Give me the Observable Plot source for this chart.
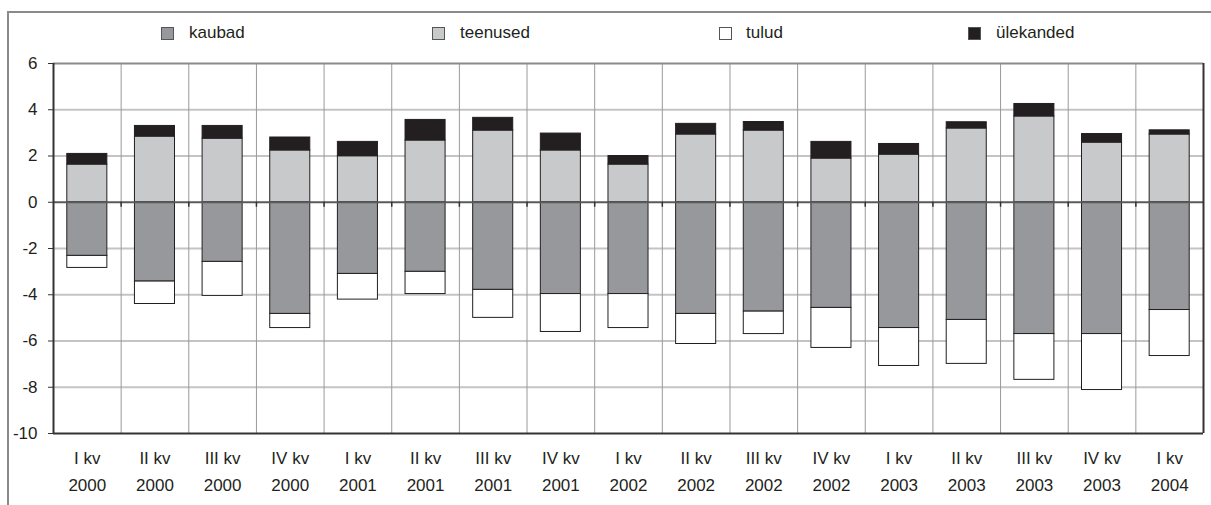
<!DOCTYPE html>
<html>
<head>
<meta charset="utf-8">
<script src="https://cdn.jsdelivr.net/npm/d3@7"></script>
<script src="https://cdn.jsdelivr.net/npm/@observablehq/plot@0.6"></script>
<style>
  html, body { margin: 0; padding: 0; background: #fff; overflow: hidden; }
  #wrap { position: relative; width: 1211px; height: 505px; font-family: "Liberation Sans", Arial, sans-serif; color: #231f20; }
  #frame { position: absolute; left: 7px; top: 11px; width: 1400px; height: 700px; border-left: 2px solid #8a8a8a; border-top: 2px solid #8a8a8a; }
  #legend { position: relative; height: 52px; }
  .lg { position: absolute; top: 23px; font-size: 17px; line-height: 20px; white-space: nowrap; }
  .sw { position: absolute; top: 27px; width: 11px; height: 11px; border: 1px solid #555; }
  #chart { position: relative; }
</style>
</head>
<body>
<div id="wrap">
  <div id="frame"></div>
  <div id="legend"></div>
  <div id="chart"></div>
</div>
<script>
const quarters = ["I kv","II kv","III kv","IV kv","I kv","II kv","III kv","IV kv","I kv","II kv","III kv","IV kv","I kv","II kv","III kv","IV kv","I kv"];
const years = ["2000","2000","2000","2000","2001","2001","2001","2001","2002","2002","2002","2002","2003","2003","2003","2003","2004"];
const kaubad = [-2.32, -3.43, -2.58, -4.83, -3.10, -3.01, -3.79, -3.97, -3.97, -4.83, -4.73, -4.57, -5.44, -5.09, -5.70, -5.70, -4.66];
const teenused = [1.63, 2.84, 2.75, 2.24, 1.99, 2.67, 3.10, 2.24, 1.63, 2.93, 3.10, 1.89, 2.06, 3.19, 3.71, 2.58, 2.93];
const tulud = [-0.52, -0.97, -1.47, -0.61, -1.11, -0.96, -1.21, -1.64, -1.47, -1.30, -0.97, -1.73, -1.64, -1.90, -1.98, -2.42, -1.99];
const ulekanded = [0.46, 0.46, 0.55, 0.56, 0.62, 0.89, 0.55, 0.73, 0.37, 0.46, 0.37, 0.72, 0.46, 0.27, 0.54, 0.37, 0.18];
const seriesNames = ["kaubad", "teenused", "tulud", "ülekanded"];
const seriesColors = ["#97989b", "#c8c9ca", "#ffffff", "#231f20"];
const yTicks = [-10, -8, -6, -4, -2, 0, 2, 4, 6];

const seriesValues = [kaubad, teenused, tulud, ulekanded];
const rows = [];
seriesNames.forEach((s, k) => seriesValues[k].forEach((v, i) => rows.push({i, series: s, value: v})));
const idx = d3.range(quarters.length);
const bounds = d3.range(1, quarters.length);

// legend
const legendPos = [[161, 189], [432, 460], [719, 746], [968, 996]];
const legend = document.getElementById("legend");
seriesNames.forEach((s, k) => {
  const sw = document.createElement("div");
  sw.className = "sw";
  sw.style.left = legendPos[k][0] + "px";
  sw.style.background = seriesColors[k];
  legend.appendChild(sw);
  const t = document.createElement("div");
  t.className = "lg";
  t.style.left = legendPos[k][1] + "px";
  t.textContent = s;
  legend.appendChild(t);
});

const chart = Plot.plot({
  width: 1211,
  height: 453,
  marginLeft: 53,
  marginRight: 8,
  marginTop: 11,
  marginBottom: 72,
  style: {fontFamily: "'Liberation Sans', Arial, sans-serif", fontSize: "16px", color: "#231f20", background: "transparent"},
  x: {type: "linear", domain: [0, quarters.length], axis: null},
  y: {domain: [-10, 6], axis: null},
  color: {domain: seriesNames, range: seriesColors},
  marks: [
    Plot.ruleY(yTicks.filter(t => t !== 0 && t !== 6 && t !== -10), {stroke: "#c4c4c4", strokeWidth: 2}),
    Plot.ruleX(bounds, {stroke: "#9a9a9a", strokeWidth: 1}),
    Plot.rectY(rows, {x: "i", interval: 1, y: "value", fill: "series", order: seriesNames,
      insetLeft: 13.8, insetRight: 13.8, stroke: "#231f20", strokeWidth: 1}),
    Plot.ruleY([0], {stroke: "#5a5a5a", strokeWidth: 2}),
    Plot.ruleX(bounds, {y1: 0, y2: 0, insetBottom: -5, stroke: "#333", strokeWidth: 1.5}),
    Plot.ruleY([6], {stroke: "#8a8a8a", strokeWidth: 2}),
    Plot.ruleY([-10], {stroke: "#333", strokeWidth: 2}),
    Plot.ruleX([0], {stroke: "#333", strokeWidth: 2}),
    Plot.ruleX([quarters.length], {stroke: "#333", strokeWidth: 2}),
    Plot.axisY({ticks: yTicks, label: null, tickSize: 5, tickPadding: 11, tickFormat: d => String(d).replace("−", "-"), fontSize: 17, stroke: "#333"}),
    Plot.axisX({ticks: idx.map(i => i + 0.5), label: null, tickSize: 0, tickPadding: 12, lineHeight: 1.55,
      tickFormat: v => quarters[Math.floor(v)] + "\n" + years[Math.floor(v)], fontSize: 17})
  ]
});
document.getElementById("chart").appendChild(chart);
</script>
</body>
</html>
